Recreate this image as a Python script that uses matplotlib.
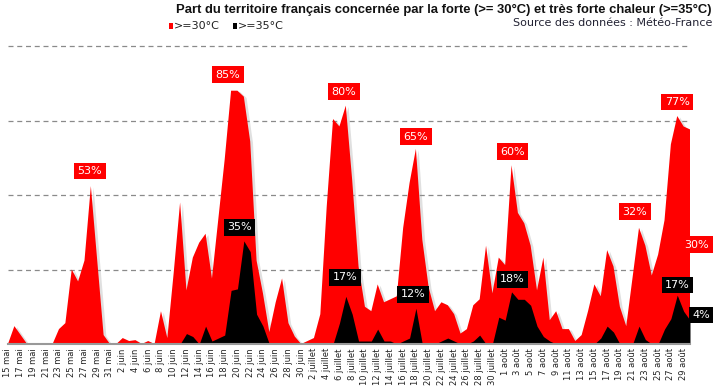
import numpy as np
import pandas as pd
import matplotlib
matplotlib.use("Agg")
import matplotlib.pyplot as plt
import matplotlib.patheffects as pe
from matplotlib.patches import Rectangle

# share of the territory, % (one value per day, 15 mai -> 30 aout)
hot_30 = [0, 6, 3, 0, 0, 0, 0, 0, 5, 7,
          25, 21, 28, 53, 28, 3, 0, 0, 2, 1,
          1.3, 0, 1, 0, 11, 2, 24, 47.5, 18, 29,
          34, 37, 22, 42, 62, 85, 85, 83, 68, 28,
          17, 4, 14, 22, 7, 2.5, 0, 1, 2, 10,
          46, 75.5, 73, 80, 55, 26, 12.5, 11, 20, 14,
          15, 16, 39, 54, 65.5, 35, 19, 11, 14, 13,
          10, 3.5, 5, 13, 15, 33, 17, 29, 26.5, 60,
          44, 40.5, 33, 18, 29, 8, 11, 5, 5, 1,
          3, 11, 20, 16, 31.5, 26, 12.5, 6, 22.5, 39,
          33, 23, 30, 41.5, 67, 76.5, 73, 72]
hot_35 = [0, 0, 0, 0, 0, 0, 0, 0, 0, 0.3,
          0.3, 0.3, 0, 0, 0, 0, 0, 0, 0, 0,
          0, 0, 0, 0, 0, 0, 0, 0, 3.5, 2.5,
          0, 6, 1, 2, 3, 18, 18.5, 34.6, 31, 10,
          6, 0, 0.2, 0.2, 0, 0, 0, 0, 0, 0,
          0, 0, 7, 16, 10, 1, 1, 1, 5, 1,
          1, 0, 1, 2, 12, 0, 0, 0, 1, 2,
          1, 0, 0, 1, 3, 0, 0, 9, 8, 17.5,
          15, 15, 13, 6, 2.5, 1, 0, 0, 0, 0,
          0, 0, 0, 2, 6, 4, 0, 0, 0, 6,
          1.5, 0, 0, 5, 8.5, 16.4, 11, 8]

dates = pd.date_range("2019-05-15", periods=len(hot_30), freq="D")
mois = {5: "mai", 6: "juin", 7: "juillet", 8: "août"}
day_labels = [f"{d.day} {mois[d.month]}" for d in dates]

# labels: (day index, text)
labels_red = [(13, "53%"), (35, "85%"), (53, "80%"), (64, "65%"),
              (79, "60%"), (99, "32%"), (105, "77%")]
labels_black = [(37, "35%"), (53, "17%"), (64, "12%"), (79, "18%"), (105, "17%")]

RED = "#ff0000"
W, H = 715, 387

fig = plt.figure(figsize=(W / 100, H / 100), dpi=100)
ax = fig.add_axes([8 / W, 1 - 344 / H, 682 / W, 298 / H])

x = np.arange(len(hot_30))
shadow = [pe.SimplePatchShadow(offset=(2, -1), shadow_rgbFace="#999999", alpha=0.3),
          pe.Normal()]
ax.fill_between(x, 0, hot_30, color=RED, lw=0, zorder=2, path_effects=shadow)
ax.fill_between(x, 0, hot_35, color="black", lw=0, zorder=3)

ax.set_xlim(0, len(x) - 1)
ax.set_ylim(0, 100)
for g in [25, 50, 75, 100]:
    ax.axhline(g, color="#8a8a8a", lw=0.9, ls=(0, (4, 3)), zorder=1, clip_on=False)

ax.set_yticks([])
ax.set_xticks(x[::2])
ax.set_xticklabels(day_labels[::2], rotation=90, fontsize=6, color="#222222")
ax.tick_params(axis="x", length=0, pad=3)
for s in ["top", "left", "right"]:
    ax.spines[s].set_visible(False)
ax.spines["bottom"].set_color("#999999")
ax.spines["bottom"].set_linewidth(1.5)
ax.spines["bottom"].set_zorder(5)


def tag(i, val, text, face, dx, dy):
    ax.annotate(text, (i, val), xytext=(dx * 0.72, dy * 0.72), textcoords="offset points",
                ha="center", va="center", color="white", fontsize=8, zorder=6,
                annotation_clip=False,
                bbox=dict(boxstyle="square,pad=0.3", fc=face, ec="none"))


red_off = {13: (-1, 15), 35: (-3, 16), 53: (-2, 14), 64: (0, 12),
           79: (1, 13.5), 99: (-4, 16), 105: (0, 14)}
for i, t in labels_red:
    dx, dy = red_off[i]
    tag(i, hot_30[i], t, RED, dx, dy)

black_off = {37: (-4, 13.5), 53: (-1, 19), 64: (-3, 14), 79: (1, 12.5), 105: (0, 10)}
for i, t in labels_black:
    dx, dy = black_off[i]
    tag(i, hot_35[i], t, "black", dx, dy)

# last-day values
tag(len(x) - 1, 30, "30%", RED, 7, 10)
tag(len(x) - 1, 4, "4%", "black", 11, 17)

fig.text(712 / W, 1 - 10 / H,
         "Part du territoire français concernée par la forte (>= 30°C) et très forte chaleur (>=35°C)",
         ha="right", va="center", fontsize=9.4, fontweight="bold", family="Liberation Sans",
         color="#111111")
fig.text(712 / W, 1 - 23 / H, "Source des données : Météo-France", ha="right", va="center",
         fontsize=8, color="#222233")

# legend
fig.patches.append(Rectangle((169 / W, 1 - 29 / H), 4 / W, 6 / H, transform=fig.transFigure,
                             fc=RED, ec="none"))
fig.text(174 / W, 1 - 26 / H, ">=30°C", ha="left", va="center", fontsize=8, color="#222222")
fig.patches.append(Rectangle((233 / W, 1 - 29 / H), 4 / W, 6 / H, transform=fig.transFigure,
                             fc="black", ec="none"))
fig.text(238 / W, 1 - 26 / H, ">=35°C", ha="left", va="center", fontsize=8, color="#222222")

fig.savefig("out.png", dpi=100)
